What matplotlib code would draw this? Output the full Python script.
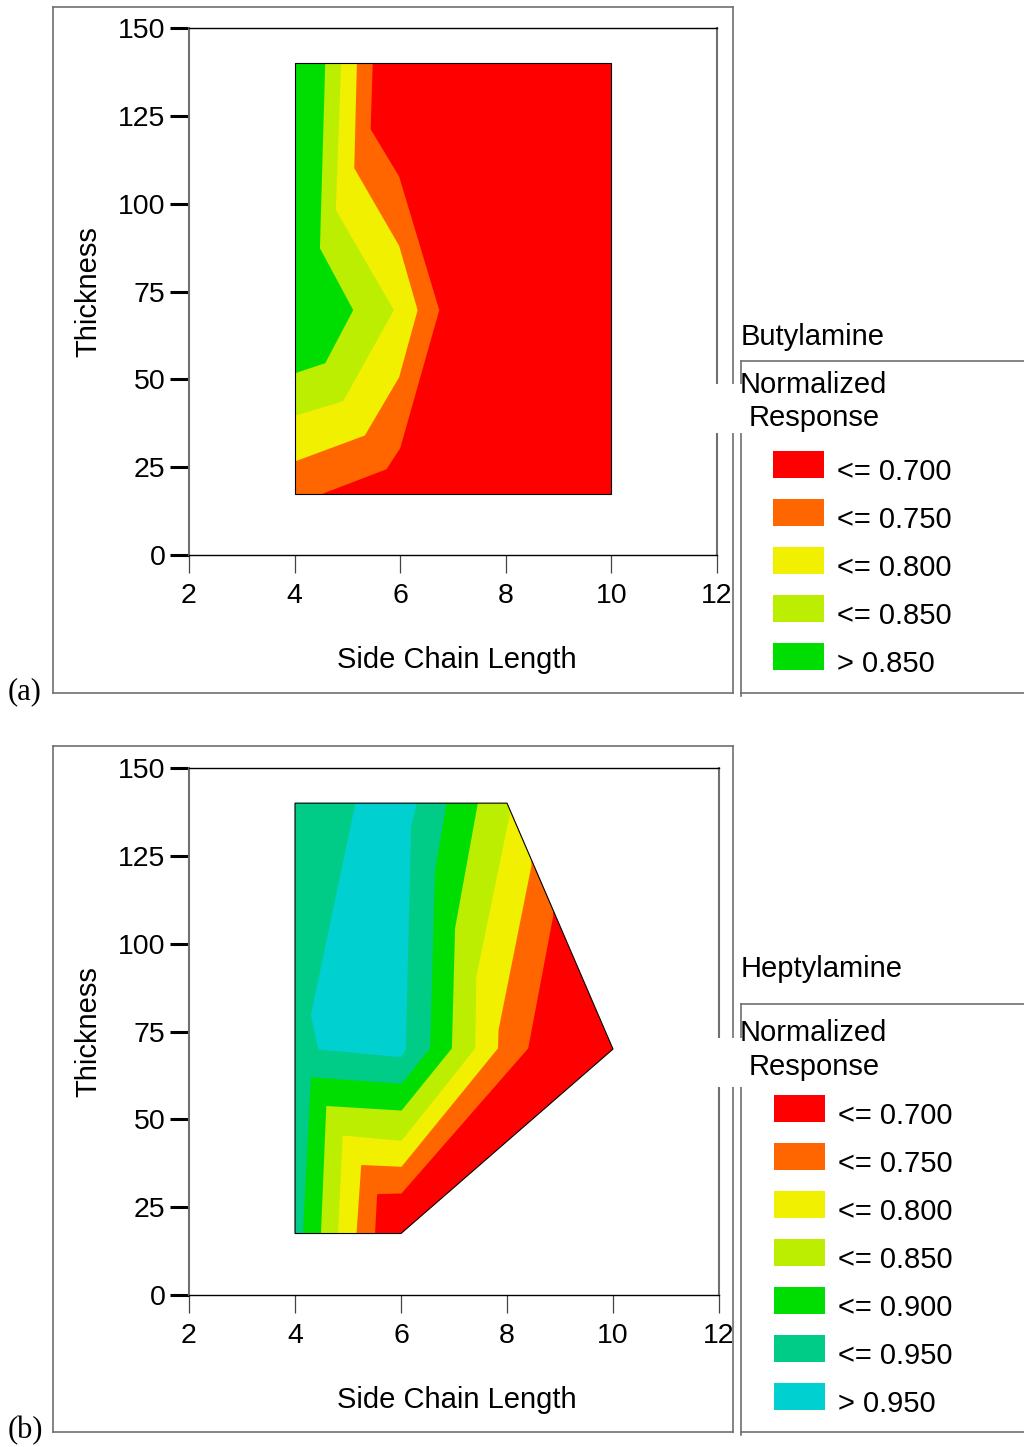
import matplotlib
matplotlib.use("Agg")
import matplotlib.pyplot as plt
from matplotlib.patches import Polygon, Rectangle
from matplotlib.lines import Line2D

plt.rcParams['font.family'] = ['Liberation Sans', 'DejaVu Sans']

# ---------------- data ----------------
x_ticks = [2, 4, 6, 8, 10, 12]
y_ticks = [0, 25, 50, 75, 100, 125, 150]
x_label = "Side Chain Length"
y_label = "Thickness"

# Panel (a): Butylamine
a_title = "Butylamine"
a_thresholds = [0.700, 0.750, 0.800, 0.850]
a_colors = ["#ff0000", "#ff6600", "#f0f000", "#bbee00", "#00dd00"]
a_domain_x = [4, 4, 10, 10]
a_domain_y = [17.5, 140, 140, 17.5]
# contour boundaries (side chain length, thickness) for each threshold
a_b070_x = [5.48, 5.44, 5.98, 6.74, 6.00, 5.74, 4.54]
a_b070_y = [140, 121.2, 107.7, 69.7, 30.4, 24.4, 17.5]
a_b075_x = [5.18, 5.13, 5.98, 6.33, 5.98, 5.33, 4.00]
a_b075_y = [140, 110.1, 88.0, 69.7, 50.6, 34.0, 26.6]
a_b080_x = [4.88, 4.78, 5.88, 4.92, 4.00]
a_b080_y = [140, 98.2, 69.7, 43.8, 39.6]
a_b085_x = [4.58, 4.48, 5.11, 4.58, 4.00]
a_b085_y = [140, 87.3, 69.7, 54.6, 51.7]

# Panel (b): Heptylamine
b_title = "Heptylamine"
b_thresholds = [0.700, 0.750, 0.800, 0.850, 0.900, 0.950]
b_colors = ["#ff0000", "#ff6600", "#f0f000", "#bbee00", "#00dd00", "#00cc88", "#00d0d0"]
b_domain_x = [4, 4, 8, 10, 6]
b_domain_y = [17.5, 140, 140, 70, 17.5]
b_b070_x = [8.87, 8.40, 6.01, 5.55, 5.51]
b_b070_y = [107.7, 70.2, 28.9, 28.7, 17.5]
b_b075_x = [8.46, 7.84, 7.83, 6.01, 5.25, 5.16]
b_b075_y = [122.1, 75.4, 70.2, 36.5, 37.0, 17.5]
b_b080_x = [8.05, 7.42, 7.40, 6.01, 4.90, 4.81]
b_b080_y = [136.6, 90.6, 70.2, 43.9, 45.4, 17.5]
b_b085_x = [7.45, 7.02, 6.96, 6.01, 4.59, 4.49]
b_b085_y = [140, 104.4, 70.2, 52.5, 53.8, 17.5]
b_b090_x = [6.86, 6.64, 6.55, 6.01, 4.30, 4.15]
b_b090_y = [140, 120.5, 70.2, 60.1, 62.0, 17.5]
b_b095_x = [5.14, 4.30, 4.44, 6.00, 6.09, 6.19, 6.30]   # closed island
b_b095_y = [140, 79.7, 69.9, 67.7, 69.7, 133.3, 140]

# ---------------- layout helpers ----------------
W, H = 1024, 1447
fig = plt.figure(figsize=(W / 100, H / 100), dpi=100)
fig.patch.set_facecolor("white")
FS = 21
GRAY = "#707070"


def fx(x):
    return x / W


def fy(y):
    return 1 - y / H


def fline(x0, y0, x1, y1, color=GRAY, lw=1.2, z=2):
    fig.add_artist(Line2D([fx(x0), fx(x1)], [fy(y0), fy(y1)], color=color,
                          lw=lw, transform=fig.transFigure, zorder=z))


def ftext(x, y, s, **kw):
    kw.setdefault("fontsize", FS)
    fig.text(fx(x), fy(y), s, ha="left", va="center", zorder=5, **kw)


def draw_panel(top, right_px, domain_x, domain_y, bounds, island_flags, colors):
    ax = fig.add_axes([fx(189), fy(top + 527), (right_px - 189) / W, 527 / H])
    ax.set_xlim(2, 12)
    ax.set_ylim(0, 150)
    dom = Polygon(list(zip(domain_x, domain_y)), closed=True, facecolor="none",
                  edgecolor="none", transform=ax.transData)
    ax.add_patch(dom)
    # base colour covers the whole domain
    base = ax.fill(domain_x, domain_y, color=colors[0], lw=0, zorder=1)[0]
    base.set_clip_path(dom)
    for k, ((bx, by), isl) in enumerate(zip(bounds, island_flags)):
        if isl:
            px = [bx[0]] + list(bx) + [bx[-1]]
            py = [160] + list(by) + [160]
        else:
            px = [bx[0]] + list(bx) + [bx[-1], 1, 1]
            py = [160] + list(by) + [5, 5, 160]
        p = ax.fill(px, py, color=colors[k + 1], lw=0, zorder=1 + k + 1)[0]
        p.set_clip_path(dom)
    ax.fill(domain_x, domain_y, facecolor="none", edgecolor="black", lw=0.8, zorder=20)

    ax.set_xticks(x_ticks)
    ax.set_yticks(y_ticks)
    ax.tick_params(axis="y", direction="out", length=14, width=2.2, pad=3,
                   labelsize=FS - 0.5, color="black")
    ax.tick_params(axis="x", direction="out", length=13, width=0.9, pad=7,
                   labelsize=FS - 0.5, color="#444444")
    for s in ("left", "right"):
        ax.spines[s].set_color(GRAY)
        ax.spines[s].set_linewidth(1.5)
    for s in ("top", "bottom"):
        ax.spines[s].set_color("black")
        ax.spines[s].set_linewidth(1.0)
    ax.set_xlabel(x_label, fontsize=FS)
    ax.set_ylabel(y_label, fontsize=FS)
    ax.xaxis.set_label_coords((457 - 189) / (right_px - 189), -105 / 527)
    ax.xaxis.label.set_va("center")
    ax.yaxis.set_label_coords(-101 / (right_px - 189), 0.5)
    ax.yaxis.label.set_va("center")
    return ax


def threshold_labels(th):
    return ["<= %.3f" % t for t in th] + ["> %.3f" % th[-1]]


def draw_frame_and_legend(off, title, title_y, box_top, norm_y, resp_y,
                          white_top, white_bot, patch_x, patch_top0, text_x,
                          colors, labels, tag):
    top, bot = 7 + off, 693 + off
    fline(53, top, 733, top)
    fline(733, top, 733, bot)
    fline(53, top, 53, bot)
    fline(53, bot, 733, bot)
    # legend box
    fline(741, box_top, 1024, box_top)
    fline(741, box_top, 741, bot + 3)
    fline(741, bot, 1024, bot)
    # white label box overlapping the lines
    fig.add_artist(Rectangle((fx(712), fy(white_bot)), (908 - 712) / W,
                             (white_bot - white_top) / H, transform=fig.transFigure,
                             facecolor="white", edgecolor="none", zorder=3))
    ftext(741, title_y, title)
    ftext(740, norm_y, "Normalized")
    ftext(749, resp_y, "Response")
    for i, (c, lab) in enumerate(zip(colors, labels)):
        yt = patch_top0 + 48 * i
        fig.add_artist(Rectangle((fx(patch_x), fy(yt + 27)), 51 / W, 27 / H,
                                 transform=fig.transFigure, facecolor=c,
                                 edgecolor="none", zorder=4))
        ftext(text_x, yt + 21, lab)
    ftext(8, bot - 1, tag, family=["Liberation Serif", "DejaVu Serif"], fontsize=22)


# ---------------- panel (a) ----------------
draw_panel(28, 717, a_domain_x, a_domain_y,
           [(a_b070_x, a_b070_y), (a_b075_x, a_b075_y),
            (a_b080_x, a_b080_y), (a_b085_x, a_b085_y)],
           [False, False, False, False], a_colors)
draw_frame_and_legend(0, a_title, 337, 361, 385, 418, 384, 433,
                      773, 451, 837, a_colors, threshold_labels(a_thresholds), "(a)")

# ---------------- panel (b) ----------------
draw_panel(768, 719, b_domain_x, b_domain_y,
           [(b_b070_x, b_b070_y), (b_b075_x, b_b075_y), (b_b080_x, b_b080_y),
            (b_b085_x, b_b085_y), (b_b090_x, b_b090_y), (b_b095_x, b_b095_y)],
           [False, False, False, False, False, True], b_colors)
draw_frame_and_legend(739, b_title, 969, 1004, 1033, 1067, 1038, 1087,
                      774, 1095, 838, b_colors, threshold_labels(b_thresholds), "(b)")

fig.savefig("out.png", dpi=100, facecolor="white")
